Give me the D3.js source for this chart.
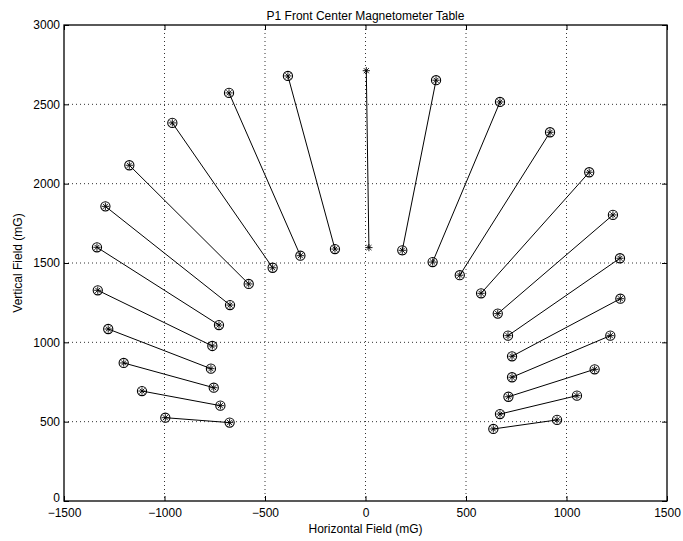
<!DOCTYPE html>
<html>
<head>
<meta charset="utf-8">
<script src="https://cdn.jsdelivr.net/npm/d3@7/dist/d3.min.js"></script>
<style>
  html, body { margin: 0; padding: 0; background: #fff; }
  svg text { font-family: "Liberation Sans", Arial, Helvetica, sans-serif; }
</style>
</head>
<body>
<svg id="chart" width="683" height="541"></svg>
<script>
// ── data: each segment runs from an outer reading to an inner reading ──
const outerX = [-996, -1112, -1203, -1280, -1332, -1336, -1294, -1175, -961, -679, -386,
                4,
                351, 669, 918, 1113, 1231, 1266, 1268, 1218, 1140, 1052, 953];
const outerY = [525, 693, 870, 1084, 1328, 1599, 1857, 2116, 2383, 2572, 2679,
                2712,
                2652, 2515, 2324, 2072, 1803, 1530, 1275, 1042, 830, 664, 511];
const innerX = [-676, -722, -755, -769, -762, -729, -674, -581, -462, -324, -152,
                17,
                183, 334, 469, 575, 658, 709, 729, 729, 711, 669, 636];
const innerY = [494, 601, 714, 834, 977, 1109, 1235, 1368, 1470, 1546, 1588,
                1597,
                1580, 1506, 1423, 1309, 1181, 1042, 912, 780, 657, 548, 454];
// marker style per segment: 'o*' circle+asterisk, '*' asterisk only
const markers = ['o*','o*','o*','o*','o*','o*','o*','o*','o*','o*','o*',
                 '*',
                 'o*','o*','o*','o*','o*','o*','o*','o*','o*','o*','o*'];

const xTicks = [-1500, -1000, -500, 0, 500, 1000, 1500];
const yTicks = [0, 500, 1000, 1500, 2000, 2500, 3000];

const W = 683, H = 541;
const m = { left: 64, right: 16, top: 25, bottom: 40 };

const x = d3.scaleLinear([-1500, 1500], [m.left, W - m.right]);
const y = d3.scaleLinear([0, 3000], [H - m.bottom, m.top]);

const svg = d3.select('#chart');
svg.append('rect').attr('width', W).attr('height', H).attr('fill', '#fff');

// ── grid (dotted) ──
const grid = svg.append('g').attr('stroke', '#000').attr('stroke-width', 1)
  .attr('stroke-dasharray', '1,3').attr('opacity', 0.8);
xTicks.slice(1, -1).forEach(v => {
  grid.append('line').attr('x1', x(v)).attr('x2', x(v))
    .attr('y1', y(3000)).attr('y2', y(0));
});
yTicks.slice(1, -1).forEach(v => {
  grid.append('line').attr('x1', x(-1500)).attr('x2', x(1500))
    .attr('y1', y(v)).attr('y2', y(v));
});

// ── axes, MATLAB style: inward ticks on all four sides ──
const fmt = d3.format('d');
function styleAxis(g) {
  g.select('.domain').remove();
  g.selectAll('.tick line').attr('stroke', '#000');
  g.selectAll('.tick text').attr('font-size', 12).attr('fill', '#000')
    .attr('font-family', '"Liberation Sans", Arial, sans-serif');
}
svg.append('g').attr('transform', `translate(0,${y(0)})`)
  .call(d3.axisBottom(x).tickValues(xTicks).tickFormat(v => fmt(v).replace('-', '\u2212'))
    .tickSizeInner(-5).tickSizeOuter(0).tickPadding(7))
  .call(styleAxis);
svg.append('g').attr('transform', `translate(${x(-1500)},0)`)
  .call(d3.axisLeft(y).tickValues(yTicks).tickFormat(fmt)
    .tickSizeInner(-5).tickSizeOuter(0).tickPadding(4))
  .call(styleAxis)
  // the "0" sits just above the x labels at the corner
  .call(g => g.selectAll('.tick text').filter(d => d === 0).attr('dy', '0.02em'));
svg.append('g').attr('transform', `translate(0,${y(3000)})`)
  .call(d3.axisTop(x).tickValues(xTicks).tickFormat('').tickSizeInner(-5).tickSizeOuter(0))
  .call(styleAxis);
svg.append('g').attr('transform', `translate(${x(1500)},0)`)
  .call(d3.axisRight(y).tickValues(yTicks).tickFormat('').tickSizeInner(-5).tickSizeOuter(0))
  .call(styleAxis);

// box
svg.append('rect')
  .attr('x', x(-1500)).attr('y', y(3000))
  .attr('width', x(1500) - x(-1500)).attr('height', y(0) - y(3000))
  .attr('fill', 'none').attr('stroke', '#000').attr('stroke-width', 1.3);

// ── segments ──
const segs = outerX.map((ox, i) => ({
  x1: ox, y1: outerY[i], x2: innerX[i], y2: innerY[i], mk: markers[i]
}));

const plot = svg.append('g');
plot.selectAll('line.seg').data(segs).join('line')
  .attr('class', 'seg')
  .attr('x1', d => x(d.x1)).attr('y1', d => y(d.y1))
  .attr('x2', d => x(d.x2)).attr('y2', d => y(d.y2))
  .attr('stroke', '#000').attr('stroke-width', 1);

// markers at both ends
const pts = [];
segs.forEach(d => {
  pts.push({ x: d.x1, y: d.y1, mk: d.mk });
  pts.push({ x: d.x2, y: d.y2, mk: d.mk });
});

const star = r => {
  const a = r * Math.SQRT1_2;
  return `M${-r},0L${r},0M0,${-r}L0,${r}M${-a},${-a}L${a},${a}M${-a},${a}L${a},${-a}`;
};

const mk = plot.selectAll('g.mk').data(pts).join('g')
  .attr('class', 'mk')
  .attr('transform', d => `translate(${x(d.x)},${y(d.y)})`);

mk.filter(d => d.mk === 'o*').append('circle')
  .attr('r', 4.6).attr('fill', 'none').attr('stroke', '#000').attr('stroke-width', 1.1);
mk.append('path')
  .attr('d', star(3.6))
  .attr('stroke', '#000').attr('stroke-width', 0.9).attr('fill', 'none');

// ── labels ──
svg.append('text')
  .attr('x', (x(-1500) + x(1500)) / 2).attr('y', 20)
  .attr('text-anchor', 'middle').attr('font-size', 12)
  .text('P1 Front Center Magnetometer Table');

svg.append('text')
  .attr('x', (x(-1500) + x(1500)) / 2).attr('y', 533)
  .attr('text-anchor', 'middle').attr('font-size', 12)
  .text('Horizontal Field (mG)');

svg.append('text')
  .attr('transform', `translate(22,${(y(0) + y(3000)) / 2}) rotate(-90)`)
  .attr('text-anchor', 'middle').attr('font-size', 12)
  .text('Vertical Field (mG)');
</script>
</body>
</html>
